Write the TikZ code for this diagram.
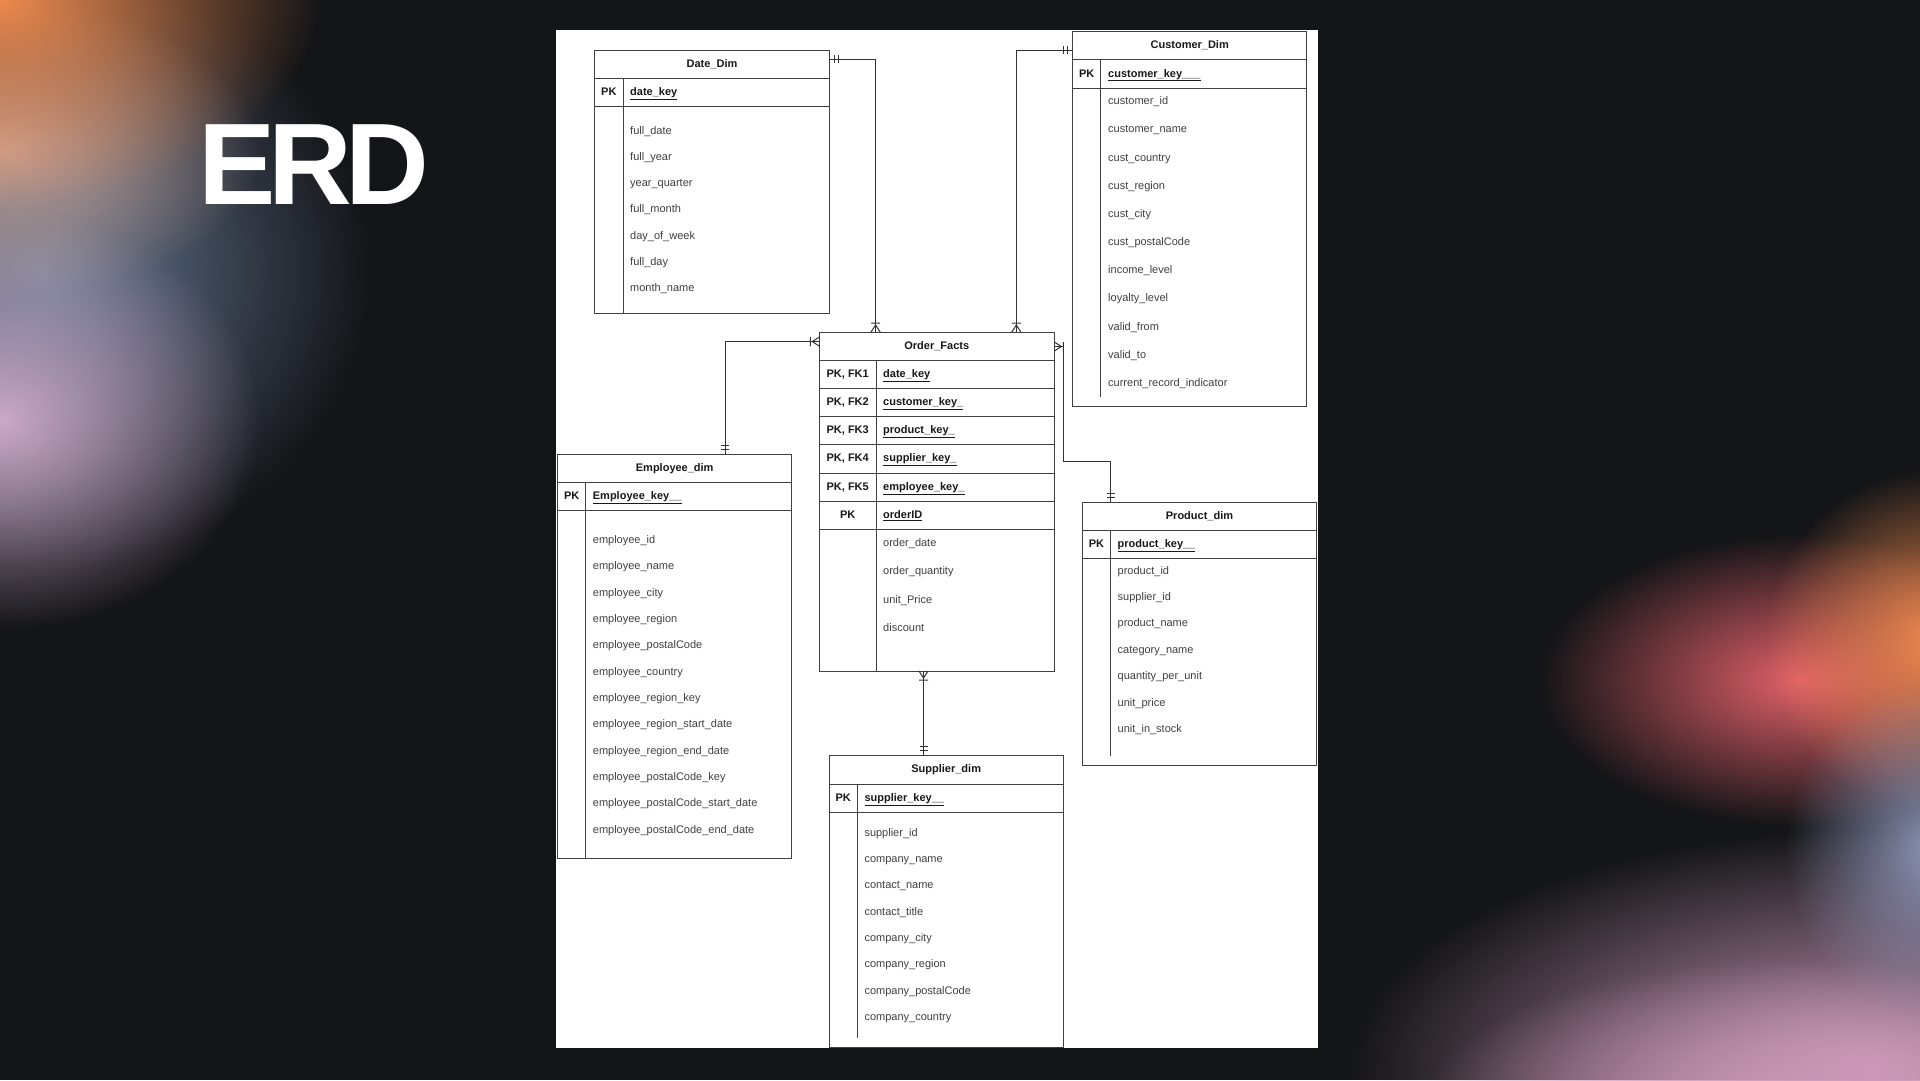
\documentclass[tikz,border=0pt]{standalone}
\usepackage{fontspec}
\setmainfont{Liberation Sans}
\newfontfamily\titlefont[LetterSpace=-6]{Liberation Sans}
\usetikzlibrary{fadings}

% ER line ends: crow's foot with bar (one or many) and double bar (exactly one)
\pgfdeclarearrow{
  name = crow,
  setup code = {
    \pgfarrowssettipend{0pt}
    \pgfarrowssetlineend{0pt}
    \pgfarrowssetbackend{-9pt}
    \pgfarrowssetvisualbackend{-9pt}
    \pgfarrowsupperhullpoint{0pt}{4.5pt}
    \pgfarrowsupperhullpoint{-9pt}{4.5pt}
  },
  drawing code = {
    \pgfpathmoveto{\pgfqpoint{0pt}{4.5pt}}
    \pgfpathlineto{\pgfqpoint{-7pt}{0pt}}
    \pgfpathlineto{\pgfqpoint{0pt}{-4.5pt}}
    \pgfpathmoveto{\pgfqpoint{-9pt}{4.5pt}}
    \pgfpathlineto{\pgfqpoint{-9pt}{-4.5pt}}
    \pgfusepathqstroke
  }
}
\pgfdeclarearrow{
  name = mone,
  setup code = {
    \pgfarrowssettipend{0pt}
    \pgfarrowssetlineend{0pt}
    \pgfarrowssetbackend{-9pt}
    \pgfarrowssetvisualbackend{-9pt}
    \pgfarrowsupperhullpoint{0pt}{4pt}
    \pgfarrowsupperhullpoint{-9pt}{4pt}
  },
  drawing code = {
    \pgfpathmoveto{\pgfqpoint{-5pt}{4pt}}
    \pgfpathlineto{\pgfqpoint{-5pt}{-4pt}}
    \pgfpathmoveto{\pgfqpoint{-9pt}{4pt}}
    \pgfpathlineto{\pgfqpoint{-9pt}{-4pt}}
    \pgfusepathqstroke
  }
}

\definecolor{bgdark}{HTML}{141518}
\definecolor{blobOrange}{HTML}{EE8A4E}
\definecolor{blobPeach}{HTML}{C9A295}
\definecolor{blobBlue}{HTML}{6A7C98}
\definecolor{blobLilac}{HTML}{CBA9C6}
\definecolor{blobCoral}{HTML}{E2606A}
\definecolor{blobPink}{HTML}{CC9AB8}
\definecolor{blobSky}{HTML}{8F96B8}
\tikzfading[name=blob, inner color=transparent!0, outer color=transparent!100]

\begin{document}
\begin{tikzpicture}[x=1pt, y=-1pt,
    tbl/.style={draw=black!75, line width=1pt, fill=white, anchor=north west,
                inner sep=0pt, outer sep=0pt},
    tline/.style={draw=black!75, line width=1pt},
    cell/.style={inner sep=0pt, text height=8pt, text depth=2pt,
                 font=\fontsize{11}{13}\selectfont},
    ttl/.style={cell, font=\fontsize{11}{13}\selectfont\bfseries, text=black!90},
    attr/.style={cell, anchor=west, text=black!75},
    keyattr/.style={ttl, anchor=west},
    rel/.style={draw=black!80, line width=1pt, mone-crow},
  ]
  \useasboundingbox (0,0) rectangle (1920,1080);
  \fill[bgdark] (0,0) rectangle (1920,1080);

  % blurred colour blobs
  \begin{scope}
    \clip (0,0) rectangle (1920,1080);
    \fill[blobBlue, path fading=blob] (40,270) ellipse [x radius=330, y radius=300];
    \fill[blobLilac, path fading=blob] (0,420) ellipse [x radius=260, y radius=210];
    \fill[blobPeach, path fading=blob] (0,150) ellipse [x radius=260, y radius=150];
    \fill[blobOrange, path fading=blob] (0,0) ellipse [x radius=320, y radius=200];
    \fill[blobCoral, path fading=blob] (1800,680) ellipse [x radius=260, y radius=145];
    \fill[blobOrange, path fading=blob] (1935,640) ellipse [x radius=170, y radius=170];
    \fill[blobPink, path fading=blob] (1870,1070) ellipse [x radius=520, y radius=240];
    \fill[blobPink, path fading=blob] (1800,1110) ellipse [x radius=380, y radius=150];
    \fill[blobSky, path fading=blob] (1935,850) ellipse [x radius=150, y radius=170];
  \end{scope}

  \node[anchor=base west, inner sep=0pt, text=white,
        font=\titlefont\fontsize{116}{116}\selectfont\bfseries] (erd) at (198,204) {ERD};

  \fill[white] (556,30) rectangle (1318,1048);

  % Date_Dim
  \node[tbl, minimum width=234.6pt, minimum height=263.6pt] (date) at (594.7,50) {};
  \draw[tline] (594.7,78.2) -- (829.3,78.2);
  \draw[tline] (594.7,106.4) -- (829.3,106.4);
  \draw[tline] (623,78.2) -- (623,313.6);
  \node[ttl] (date-t) at (712,64.1) {Date\_Dim};
  \node[ttl] (date-pk) at (608.8,92.3) {PK};
  \node[keyattr] (date-k) at (630,92.3) {\underline{date\_key}};
  \foreach \t [count=\i from 0] in {full\_date, full\_year, year\_quarter,
      full\_month, day\_of\_week, full\_day, month\_name}
    \node[attr] (date-\i) at (630,{131+26.33*\i}) {\t};

  % Customer_Dim
  \node[tbl, minimum width=234pt, minimum height=374.8pt] (cust) at (1072.7,31.7) {};
  \draw[tline] (1072.7,59.9) -- (1306.7,59.9);
  \draw[tline] (1072.7,88.1) -- (1306.7,88.1);
  \draw[tline] (1100.7,59.9) -- (1100.7,397);
  \node[ttl] (cust-t) at (1189.7,45.8) {Customer\_Dim};
  \node[ttl] (cust-pk) at (1086.7,74) {PK};
  \node[keyattr] (cust-k) at (1108,74) {\underline{customer\_key\_\_\_}};
  \foreach \t [count=\i from 0] in {customer\_id, customer\_name, cust\_country,
      cust\_region, cust\_city, cust\_postalCode, income\_level, loyalty\_level,
      valid\_from, valid\_to, current\_record\_indicator}
    \node[attr] (cust-\i) at (1108,{101.8+28.17*\i}) {\t};

  % Order_Facts
  \node[tbl, minimum width=235pt, minimum height=339pt] (facts) at (819.3,332) {};
  \foreach \k in {0,...,6}
    \draw[tline] (819.3,{360.2+28.2*\k}) -- (1054.3,{360.2+28.2*\k});
  \draw[tline] (876,360.2) -- (876,671);
  \node[ttl] (facts-t) at (936.8,346.1) {Order\_Facts};
  \foreach \tag/\key [count=\i from 0] in {PK{,} FK1/date\_key, PK{,} FK2/customer\_key\_,
      PK{,} FK3/product\_key\_, PK{,} FK4/supplier\_key\_, PK{,} FK5/employee\_key\_,
      PK/orderID} {
    \node[ttl] (facts-pk\i) at (847.7,{374.3+28.2*\i}) {\tag};
    \node[keyattr] (facts-k\i) at (883,{374.3+28.2*\i}) {\underline{\key}};
  }
  \foreach \t [count=\i from 0] in {order\_date, order\_quantity, unit\_Price, discount}
    \node[attr] (facts-\i) at (883,{543+28.5*\i}) {\t};

  % Employee_dim
  \node[tbl, minimum width=234pt, minimum height=404pt] (emp) at (557.7,454.5) {};
  \draw[tline] (557.7,482.7) -- (791.7,482.7);
  \draw[tline] (557.7,510.9) -- (791.7,510.9);
  \draw[tline] (585.7,482.7) -- (585.7,858.5);
  \node[ttl] (emp-t) at (674.7,468.6) {Employee\_dim};
  \node[ttl] (emp-pk) at (571.7,496.8) {PK};
  \node[keyattr] (emp-k) at (592.7,496.8) {\underline{Employee\_key\_\_}};
  \foreach \t [count=\i from 0] in {employee\_id, employee\_name, employee\_city,
      employee\_region, employee\_postalCode, employee\_country, employee\_region\_key,
      employee\_region\_start\_date, employee\_region\_end\_date, employee\_postalCode\_key,
      employee\_postalCode\_start\_date, employee\_postalCode\_end\_date}
    \node[attr] (emp-\i) at (592.7,{540.5+26.33*\i}) {\t};

  % Product_dim
  \node[tbl, minimum width=234pt, minimum height=263.3pt] (prod) at (1082.5,502) {};
  \draw[tline] (1082.5,530.2) -- (1316.5,530.2);
  \draw[tline] (1082.5,558.4) -- (1316.5,558.4);
  \draw[tline] (1110.5,530.2) -- (1110.5,755.5);
  \node[ttl] (prod-t) at (1199.5,516.1) {Product\_dim};
  \node[ttl] (prod-pk) at (1096.5,544.3) {PK};
  \node[keyattr] (prod-k) at (1117.5,544.3) {\underline{product\_key\_\_}};
  \foreach \t [count=\i from 0] in {product\_id, supplier\_id, product\_name,
      category\_name, quantity\_per\_unit, unit\_price, unit\_in\_stock}
    \node[attr] (prod-\i) at (1117.5,{571+26.45*\i}) {\t};

  % Supplier_dim
  \node[tbl, minimum width=234.3pt, minimum height=291.4pt] (supp) at (829,755.8) {};
  \draw[tline] (829,784) -- (1063.3,784);
  \draw[tline] (829,812.2) -- (1063.3,812.2);
  \draw[tline] (857.3,784) -- (857.3,1037.5);
  \node[ttl] (supp-t) at (946.2,769.9) {Supplier\_dim};
  \node[ttl] (supp-pk) at (843.2,798.1) {PK};
  \node[keyattr] (supp-k) at (864.3,798.1) {\underline{supplier\_key\_\_}};
  \foreach \t [count=\i from 0] in {supplier\_id, company\_name, contact\_name,
      contact\_title, company\_city, company\_region, company\_postalCode, company\_country}
    \node[attr] (supp-\i) at (864.3,{833+26.37*\i}) {\t};

  % relationships
  \draw[rel] ([yshift=-9pt]date.north east) -| ([xshift=56.3pt]facts.north west);
  \draw[rel] ([yshift=-18.5pt]cust.north west) -| ([xshift=197pt]facts.north west);
  \draw[rel] ([xshift=167.5pt]emp.north west) |- ([yshift=-9.6pt]facts.north west);
  \draw[rel] ([xshift=94.5pt]supp.north west) -- ([xshift=104.2pt]facts.south west);
  \draw[rel] ([xshift=28pt]prod.north west) -- ++(0,-40.4)
    -| ([xshift=9pt,yshift=-14.5pt]facts.north east) -- ([yshift=-14.5pt]facts.north east);
\end{tikzpicture}
\end{document}
